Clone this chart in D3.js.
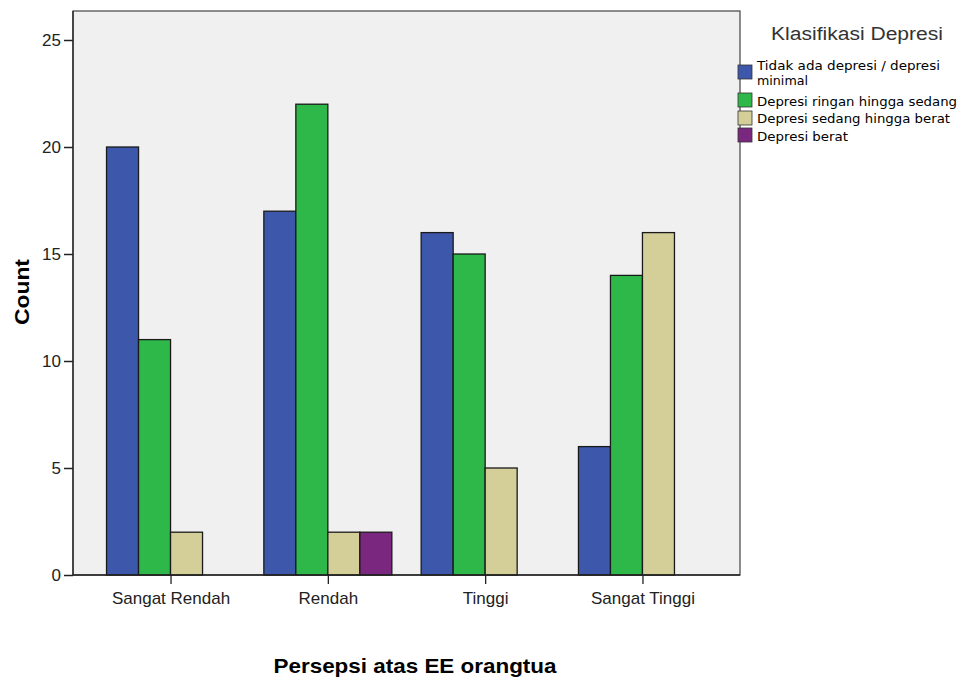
<!DOCTYPE html>
<html>
<head>
<meta charset="utf-8">
<script src="https://cdn.jsdelivr.net/npm/d3@7/dist/d3.min.js"></script>
<style>
  html, body { margin: 0; padding: 0; background: #ffffff; }
  svg { display: block; }
</style>
</head>
<body>
<svg id="chart" width="962" height="679"></svg>
<script>
const categories = ["Sangat Rendah", "Rendah", "Tinggi", "Sangat Tinggi"];
const seriesNames = [
  "Tidak ada depresi / depresi minimal",
  "Depresi ringan hingga sedang",
  "Depresi sedang hingga berat",
  "Depresi berat"
];
const seriesColors = ["#3D57AB", "#2EB84A", "#D4CF98", "#7A287F"];
const tidakAda = [20, 17, 16, 6];
const ringanSedang = [11, 22, 15, 14];
const sedangBerat = [2, 2, 5, 16];
const berat = [0, 2, 0, 0];
const yTicks = [0, 5, 10, 15, 20, 25];

const seriesValues = [tidakAda, ringanSedang, sedangBerat, berat];

const svg = d3.select("#chart");
const plot = { left: 73, right: 740, top: 11, bottom: 575 };

// plot background
svg.append("rect")
  .attr("x", plot.left).attr("y", plot.top)
  .attr("width", plot.right - plot.left).attr("height", plot.bottom - plot.top)
  .attr("fill", "#F0F0F0")
  .attr("stroke", "#444").attr("stroke-width", 1.2);

const y = d3.scaleLinear().domain([0, 25]).range([575, 40]);
const x = d3.scalePoint().domain(categories).range([plot.left, plot.right]).padding(0.62);
const inner = d3.scaleBand().domain(d3.range(seriesNames.length)).range([-64, 64]).padding(0);

// bars
const data = [];
categories.forEach((c, ci) => {
  seriesValues.forEach((vals, si) => {
    if (vals[ci] > 0) data.push({ cat: c, s: si, v: vals[ci] });
  });
});
svg.append("g").selectAll("rect").data(data).join("rect")
  .attr("x", d => x(d.cat) + inner(d.s))
  .attr("y", d => y(d.v))
  .attr("width", inner.bandwidth())
  .attr("height", d => y(0) - y(d.v))
  .attr("fill", d => seriesColors[d.s])
  .attr("stroke", "#1a1a1a").attr("stroke-width", 1.3);

// Y axis
const yAxis = d3.axisLeft(y).tickValues(yTicks).tickSize(9).tickPadding(3).tickFormat(d3.format("d"));
const gy = svg.append("g").attr("transform", `translate(${plot.left},0)`).call(yAxis);
gy.select(".domain").remove();
gy.selectAll(".tick line").attr("stroke", "#222").attr("stroke-width", 1.5);
gy.selectAll(".tick text")
  .attr("font-family", "'Liberation Sans', Arial, sans-serif")
  .attr("font-size", 17).attr("fill", "#222");
svg.append("line")
  .attr("x1", plot.left).attr("x2", plot.left)
  .attr("y1", plot.top).attr("y2", plot.bottom)
  .attr("stroke", "#222").attr("stroke-width", 1.3);

// X axis
const xAxis = d3.axisBottom(x).tickSize(9).tickPadding(8);
const gx = svg.append("g").attr("transform", `translate(0,${plot.bottom})`).call(xAxis);
gx.select(".domain").remove();
gx.selectAll(".tick line").attr("stroke", "#222").attr("stroke-width", 1.3);
gx.selectAll(".tick text")
  .attr("font-family", "'Liberation Sans', Arial, sans-serif")
  .attr("font-size", 17).attr("fill", "#222");
svg.append("line")
  .attr("x1", plot.left).attr("x2", plot.right)
  .attr("y1", plot.bottom).attr("y2", plot.bottom)
  .attr("stroke", "#222").attr("stroke-width", 1.3);

// Axis titles
svg.append("text")
  .attr("transform", "translate(29,292) rotate(-90)")
  .attr("text-anchor", "middle")
  .attr("font-family", "'Liberation Sans', Arial, sans-serif")
  .attr("font-weight", "bold").attr("font-size", 21)
  .attr("textLength", 66).attr("lengthAdjust", "spacingAndGlyphs")
  .attr("fill", "#000")
  .text("Count");

svg.append("text")
  .attr("x", 415).attr("y", 673)
  .attr("text-anchor", "middle")
  .attr("font-family", "'Liberation Sans', Arial, sans-serif")
  .attr("font-weight", "bold").attr("font-size", 21)
  .attr("textLength", 283).attr("lengthAdjust", "spacingAndGlyphs")
  .attr("fill", "#000")
  .text("Persepsi atas EE orangtua");

// Legend
const legend = svg.append("g");
legend.append("text")
  .attr("x", 771).attr("y", 40)
  .attr("font-family", "'Liberation Sans', Arial, sans-serif")
  .attr("font-size", 18)
  .attr("textLength", 172).attr("lengthAdjust", "spacingAndGlyphs")
  .attr("fill", "#333")
  .text("Klasifikasi Depresi");

const legendItems = [
  { lines: ["Tidak ada depresi / depresi", "minimal"], widths: [183, 51], swatchY: 65, baselines: [70, 85] },
  { lines: ["Depresi ringan hingga sedang"], widths: [200], swatchY: 93, baselines: [106] },
  { lines: ["Depresi sedang hingga berat"], widths: [193], swatchY: 111, baselines: [123] },
  { lines: ["Depresi berat"], widths: [91], swatchY: 128, baselines: [141] }
];
legendItems.forEach((item, i) => {
  legend.append("rect")
    .attr("x", 738).attr("y", item.swatchY)
    .attr("width", 14).attr("height", 14)
    .attr("fill", seriesColors[i])
    .attr("stroke", "#333").attr("stroke-width", 0.8);
  item.lines.forEach((ln, li) => {
    legend.append("text")
      .attr("x", 757).attr("y", item.baselines[li])
      .attr("font-family", "'DejaVu Sans Condensed', 'DejaVu Sans', Verdana, sans-serif")
      .attr("font-size", 12.5)
      .attr("textLength", item.widths[li]).attr("lengthAdjust", "spacingAndGlyphs")
      .attr("fill", "#000")
      .text(ln);
  });
});
</script>
</body>
</html>
